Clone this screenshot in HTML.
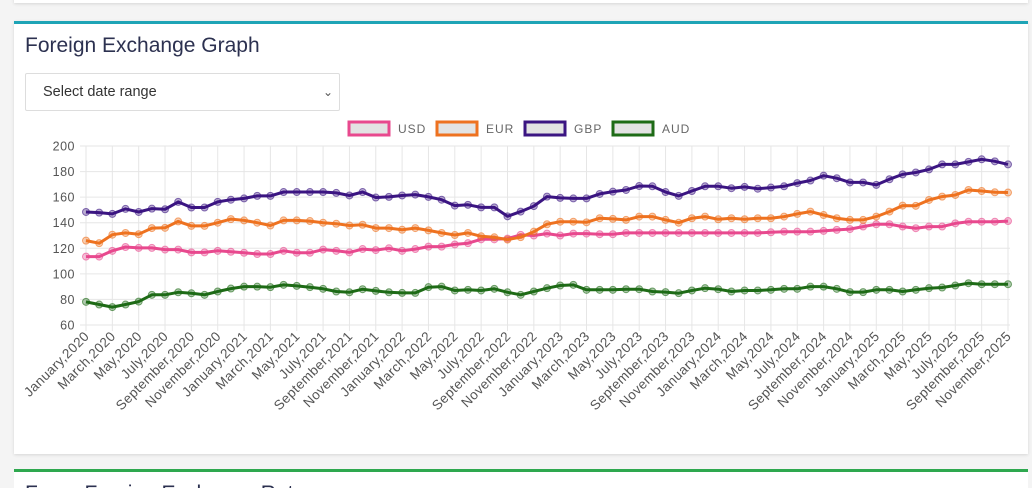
<!DOCTYPE html>
<html><head><meta charset="utf-8"><style>
html,body{margin:0;width:1032px;height:488px;overflow:hidden}
body{background:#f4f4f4;font-family:"Liberation Sans",sans-serif;position:relative}
.top{position:absolute;left:14px;top:-10px;width:1014px;height:13px;background:#fff;box-shadow:0 1px 3px rgba(0,0,0,.12)}
.card{position:absolute;left:14px;top:21px;width:1014px;height:430px;background:#fff;border-top:3px solid #1ea4b6;box-shadow:0 1px 3px rgba(0,0,0,.12)}
.card2{position:absolute;left:14px;top:469px;width:1014px;height:40px;background:#fff;border-top:3px solid #2ea84f}
h1{position:absolute;left:11px;top:10px;margin:0;font-weight:normal;font-size:21px;color:#2c3150}
.sel{position:absolute;left:11px;top:49px;width:315px;height:38px;border:1px solid #ddd;border-radius:2px;font-size:14.5px;color:#333;line-height:37px;box-sizing:border-box;padding-left:17px}
.sel span{position:absolute;right:6px;top:0;font-size:12px;color:#555}
svg{position:absolute;left:0;top:0}
</style></head><body>
<div class="top"></div>
<div class="card"><h1>Foreign Exchange Graph</h1><div class="sel">Select date range<span>&#8964;</span></div></div>
<div class="card2"><div style="position:absolute;left:11px;top:10px;font-size:21px;color:#2c3150">Forex Foreign Exchange Rates</div></div>
<svg id="s" width="1032" height="488"></svg>
<script>
var usd=[113.5,113.5,118,121,120.3,120.3,119,119,116.8,116.8,118,117.3,116.5,115.5,115.5,118,116.5,116.5,119,118,116.8,119.4,118.6,120,118,119.4,121.3,121.3,123,124,127,127,127.6,130.5,130,131.5,130,131.5,131.5,131,131,132,132,132,132,132,132,132,132,132,132,132,132.5,133,133,133,133.6,134.4,135,137,138.8,138.8,137,135.7,137,137,139.5,140.8,140.8,140.8,141.3];
var eur=[126,124,130.6,132,131,135.8,136,141,137.5,137.5,140,142.8,141.8,140,137.8,141.8,141.8,141.3,140,139.2,137.8,138.4,135.8,135.8,134.5,135.8,134,132,130.4,132,129.4,128.6,126.8,128.7,133,138.8,140.8,140.8,140.3,143.5,143,142.2,144.8,144.8,142.2,140,143.5,144.8,142.7,143.5,142.7,143.5,143.5,144.8,146.9,148.7,146,143.5,142.2,142.2,144.8,148.7,153.4,153.2,157.8,160.4,161.7,165.6,164.8,163.8,163.6];
var gbp=[148.4,147.9,146.9,150.8,148.4,151,150.5,156.3,151.9,151.9,156.3,158,159,161,161,164,164,164,164,163.3,161.3,164,159.7,160.2,161.3,162,160.2,158,153.4,154,152,152,145,148.7,153,160.4,159.4,159,159,162.5,164.3,165.6,168.7,168.5,164,161,164.8,168.5,168.5,167,168,166.6,167.5,168.5,171,173,176.8,174.8,171.5,171.5,169.6,174,177.8,179.3,181.7,185.6,185.6,187.6,189.6,188,185.6];
var aud=[78.1,76,74,76,78.3,83.6,83.6,85.6,84.8,83.6,86.2,88.5,90,90,89.6,91.4,90.6,89.6,88.3,86.2,85.6,88,86.7,85.6,85.1,85.1,89.6,90,87,87.5,87,88.3,85.6,83.6,86.2,88.8,90.9,91.4,87.5,87.5,87.5,88,88,86.2,85.7,84.9,87,88.8,88,86.2,87,87,87.5,88.3,88.3,90,90,88.3,85.7,85.7,87.5,87.5,86.2,87.5,88.8,89.3,90.9,92.7,91.9,91.9,91.9];
var X0=86,DX=(1008-86)/70,Y0=146,k=179/140;
function X(i){return X0+i*DX}function Y(v){return Y0+(200-v)*k}
var h='';
for(var v=60;v<=200;v+=20){h+='<line x1="80" x2="1010" y1="'+Y(v)+'" y2="'+Y(v)+'" stroke="#e6e6e6"/>';
h+='<text x="75" y="'+(Y(v)+4.5)+'" text-anchor="end" font-size="12.5" fill="#555" letter-spacing="0.5">'+v+'</text>';}
var M=['January','March','May','July','September','November'];
for(var i=0;i<=70;i+=2){var x=X(i);h+='<line x1="'+x+'" x2="'+x+'" y1="146" y2="331" stroke="#e6e6e6"/>';
var lab=M[(i%12)/2]+','+(2020+Math.floor(i/12));
h+='<text transform="translate('+(x+4)+',337) rotate(-45)" text-anchor="end" font-size="13.5" fill="#555" letter-spacing="0.4">'+lab+'</text>';}
function ser(d,c){var p=d.map(function(v,i){return X(i).toFixed(1)+','+Y(v).toFixed(1)}).join(' ');
var s='<polyline points="'+p+'" fill="none" stroke="'+c+'" stroke-width="3" stroke-linejoin="round"/>';
d.forEach(function(v,i){s+='<circle cx="'+X(i)+'" cy="'+Y(v)+'" r="3.5" fill="'+c+'" fill-opacity="0.35" stroke="'+c+'" stroke-opacity="0.6" stroke-width="1"/>';});return s;}
h+=ser(aud,'#1e6b16')+ser(usd,'#e8498e')+ser(eur,'#ee7220')+ser(gbp,'#3b1582');
var L=[['USD','#e8498e',349],['EUR','#ee7220',437],['GBP','#3b1582',525],['AUD','#1e6b16',613]];
L.forEach(function(l){h+='<rect x="'+l[2]+'" y="122" width="40" height="13" fill="#e3e3e3" stroke="'+l[1]+'" stroke-width="3"/>';
h+='<text x="'+(l[2]+49)+'" y="133" font-size="12" fill="#666" letter-spacing="1">'+l[0]+'</text>';});
document.getElementById('s').innerHTML=h;
</script>
</body></html>
